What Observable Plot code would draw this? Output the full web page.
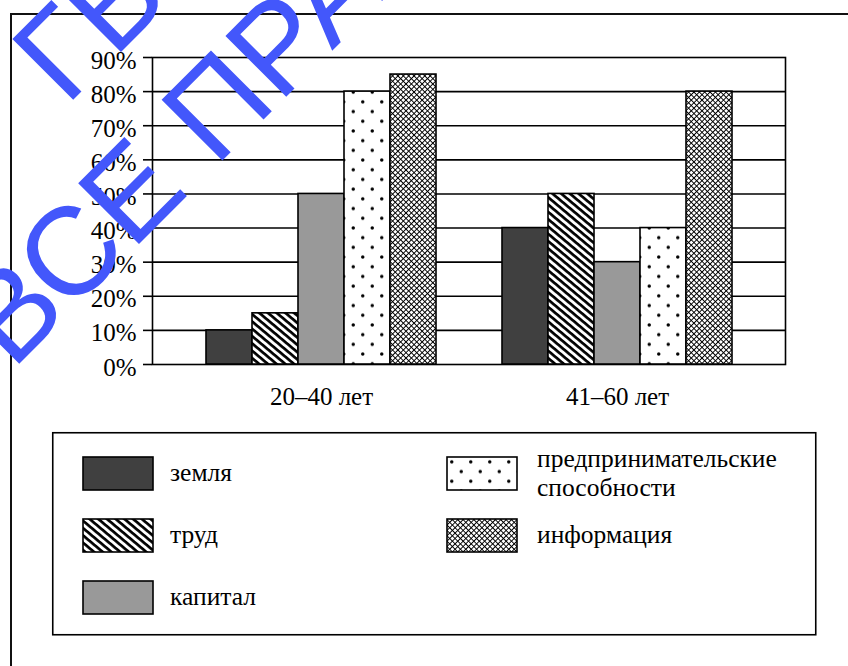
<!DOCTYPE html>
<html><head><meta charset="utf-8">
<script src="https://cdn.jsdelivr.net/npm/d3@7"></script>
<script src="https://cdn.jsdelivr.net/npm/@observablehq/plot@0.6"></script>
<style>
html,body{margin:0;padding:0;background:#fff;width:848px;height:666px;overflow:hidden;}
#page{position:relative;width:848px;height:666px;overflow:hidden;}
#outer{position:absolute;left:10px;top:13px;width:1000px;height:1000px;border:2px solid #111;box-sizing:border-box;}
#grid,#bars{position:absolute;left:0;top:0;}
#legend{position:absolute;left:0;top:420px;}
#wm{position:absolute;left:0;top:0;pointer-events:none;}
</style></head><body>
<svg width="0" height="0" style="position:absolute">
<defs>
  <pattern id="p-stripes" patternUnits="userSpaceOnUse" width="5.6" height="5.6" patternTransform="rotate(40)">
    <rect width="5.6" height="5.6" fill="#fff"/>
    <rect width="5.6" height="2.7" fill="#000"/>
  </pattern>
  <pattern id="p-dots" patternUnits="userSpaceOnUse" width="19" height="19.4">
    <rect width="19" height="19.4" fill="#fff"/>
    <circle cx="4.75" cy="4.85" r="1.75" fill="#000"/>
    <circle cx="14.25" cy="14.55" r="1.75" fill="#000"/>
  </pattern>
  <pattern id="p-cross" patternUnits="userSpaceOnUse" width="3.8" height="3.8" patternTransform="rotate(45)">
    <rect width="3.8" height="3.8" fill="#fff"/>
    <rect width="3.8" height="0.95" fill="#000"/>
    <rect width="0.95" height="3.8" fill="#000"/>
  </pattern>
</defs>
</svg>
<div id="page">
  <div id="outer"></div>
  <div id="grid"></div>
  <div id="bars"></div>
  <div id="legend"></div>
  <div id="wm"></div>
</div>
<script>
// ---- data ----
const groups = ["20–40 лет", "41–60 лет"];
const factors = ["земля", "труд", "капитал", "предпринимательские способности", "информация"];
const share2040 = [10, 15, 50, 80, 85];
const share4160 = [40, 50, 30, 40, 80];
const yTicks = [0, 10, 20, 30, 40, 50, 60, 70, 80, 90];
const legendLines = [["земля"], ["труд"], ["капитал"], ["предпринимательские", "способности"], ["информация"]];
const fills = ["#404040", "url(#p-stripes)", "#999999", "url(#p-dots)", "url(#p-cross)"];
const watermarkLines = ["ГВ", "ВСЕ ПРАВА"];

const seriesByGroup = [share2040, share4160];
const table = groups.flatMap((g, i) => factors.map((f, j) => ({group: g, factor: f, value: seriesByGroup[i][j]})));
const gridTicks = yTicks.filter(t => t > 0 && t < 90);

const serif = "\"Liberation Serif\", \"DejaVu Serif\", \"Noto Serif\", \"Times New Roman\", Times, serif";
const common = {
  width: 848, height: 420,
  marginLeft: 152, marginRight: 63, marginTop: 57, marginBottom: 56,
  style: {fontFamily: serif, fontSize: "25px", color: "#000", background: "transparent"}
};

// background layer: grid, frame, y axis
const gridPlot = Plot.plot({
  ...common,
  y: {domain: [0, 90], label: null},
  marks: [
    Plot.ruleY(gridTicks, {stroke: "#000", strokeWidth: 1.6}),
    Plot.frame({stroke: "#000", strokeWidth: 1.6}),
    Plot.axisY({ticks: yTicks, tickSize: 9, tickFormat: () => "", label: null, strokeWidth: 1.6}),
    Plot.axisY({ticks: yTicks, tickSize: 0, tickPadding: 16, tickFormat: d => d + "%", label: null, dy: 3, fontFamily: serif})
  ]
});
document.getElementById("grid").appendChild(gridPlot);

// foreground layer: grouped bars, group labels
const barPlot = Plot.plot({
  ...common,
  fx: {domain: groups, paddingInner: 0.223, paddingOuter: 0.18, label: null},
  x: {domain: factors, padding: 0, axis: null},
  y: {domain: [0, 90], axis: null},
  color: {domain: factors, range: fills},
  marks: [
    Plot.barY(table, {fx: "group", x: "factor", y: "value", fill: "factor", stroke: "#000", strokeWidth: 1.6}),
    Plot.axisFx({anchor: "bottom", tickSize: 0, tickPadding: 23, label: null, fontFamily: serif})
  ]
});
document.getElementById("bars").appendChild(barPlot);

// ---- legend ----
const lg = d3.select("#legend").append("svg").attr("width", 848).attr("height", 246)
  .attr("font-family", serif).attr("font-size", 25.5);
lg.append("rect").attr("x", 52.75).attr("y", 12.75).attr("width", 763).attr("height", 202)
  .attr("fill", "none").attr("stroke", "#000").attr("stroke-width", 1.6);
const items = lg.selectAll("g.item").data(factors).join("g").attr("class", "item")
  .attr("transform", (d, i) => {
    const col = i < 3 ? 0 : 1, row = i < 3 ? i : i - 3;
    return `translate(${col ? 447 : 83},${37 + row * 62})`;
  });
items.append("rect").attr("width", 70).attr("height", 33)
  .attr("fill", (d, i) => fills[i]).attr("stroke", "#000").attr("stroke-width", 1.6);
items.append("text").attr("x", (d, i) => i < 3 ? 87 : 90).attr("y", 16.5)
  .selectAll("tspan").data((d, i) => legendLines[i].map((t, k, a) => ({t, k, n: a.length})))
  .join("tspan").attr("x", function() { return this.parentNode.getAttribute("x"); })
  .attr("y", d => 18 + (d.k - (d.n - 1) / 2) * 28.5)
  .attr("dy", "0.25em").text(d => d.t);

// ---- watermark ----
const wm = d3.select("#wm").append("svg").attr("width", 848).attr("height", 666)
  .attr("font-family", "\"Liberation Sans\", Arial, sans-serif").attr("font-size", 125);
const wmPos = [[66, 107], [12, 371]];
wm.selectAll("text").data(watermarkLines).join("text")
  .attr("transform", (d, i) => `translate(${wmPos[i][0]},${wmPos[i][1]}) rotate(-45)`)
  .attr("fill", "#4357fb").text(d => d);
</script>
</body></html>
